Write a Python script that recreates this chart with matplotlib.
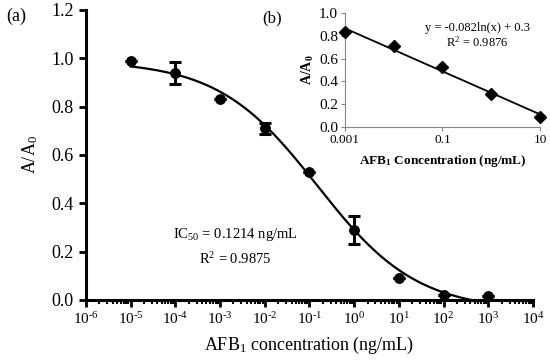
import numpy as np
import matplotlib
matplotlib.use("Agg")
import matplotlib.pyplot as plt
from matplotlib.ticker import LogLocator, FixedLocator, NullFormatter

plt.rcParams['font.family'] = ['Liberation Serif', 'DejaVu Serif']
plt.rcParams['mathtext.fontset'] = 'custom'
plt.rcParams['mathtext.rm'] = 'Liberation Serif'
plt.rcParams['mathtext.it'] = 'Liberation Serif:italic'
plt.rcParams['mathtext.bf'] = 'Liberation Serif:bold'

# main curve data (a)
conc = [1e-5, 1e-4, 1e-3, 1e-2, 1e-1, 1e0, 1e1, 1e2, 1e3]
ratio = [0.99, 0.94, 0.83, 0.71, 0.53, 0.29, 0.09, 0.02, 0.015]
ratio_err = [0.0, 0.045, 0.0, 0.022, 0.0, 0.057, 0.0, 0.0, 0.0]

# four parameter logistic fit (as drawn)
fit_top = 0.99
fit_bottom = -0.045
fit_center = 10 ** -0.82
fit_hill = 0.39

# inset data (b)
lin_conc = [0.001, 0.01, 0.1, 1, 10]
lin_ratio = [0.83, 0.71, 0.53, 0.29, 0.09]
slope = -0.082
intercept = 0.3

xtick_exp = list(range(-6, 5))

fig = plt.figure(figsize=(5.5, 3.63), dpi=100)
ax = fig.add_axes([0.156, 0.1736, 0.813, 0.799])

xs = np.logspace(-5, 2.62, 300)
ys = fit_bottom + (fit_top - fit_bottom) / (1 + (xs / fit_center) ** fit_hill)
ax.plot(xs, ys, color='black', lw=1.6, zorder=2)
ax.errorbar(conc, ratio, yerr=ratio_err, fmt='o', color='black', ms=6.8,
            elinewidth=2.2, capsize=4, capthick=2.2, zorder=3, clip_on=False)

ax.set_xscale('log')
ax.set_xlim(1e-6, 1e4)
ax.set_ylim(0, 1.2)
ax.set_xticks([10.0 ** e for e in xtick_exp])
ax.set_xticklabels([r'10$^{\text{%d}}$' % e for e in xtick_exp], fontsize=11)
ax.xaxis.set_minor_locator(LogLocator(base=10, subs=np.arange(2, 10), numticks=20))
ax.xaxis.set_minor_formatter(NullFormatter())
ax.set_yticks([0, 0.2, 0.4, 0.6, 0.8, 1.0, 1.2])
ax.set_yticklabels(['0.0', '0.2', '0.4', '0.6', '0.8', '1.0', '1.2'], fontsize=13)
for s in ['top', 'right']:
    ax.spines[s].set_visible(False)
for s in ['left', 'bottom']:
    ax.spines[s].set_linewidth(2.2)
ax.tick_params(axis='both', which='major', direction='out', length=5, width=2)
ax.tick_params(axis='x', which='minor', direction='out', length=3, width=1.5)
ax.tick_params(axis='x', pad=3)
ax.set_xlabel(r'AFB$_1$ concentration (ng/mL)', fontsize=13, labelpad=6)
ax.set_ylabel(r'A/A$_0$', fontsize=13, labelpad=8)
ax.text(2.2e-3, 0.27, r'IC$_{50}$ = 0.1214 ng/mL', fontsize=10.5, ha='center', va='center')
ax.text(2.2e-3, 0.17, r'R$^2$ = 0.9875', fontsize=10.5, ha='center', va='center')
fig.text(0.012, 0.955, '(a)', fontsize=13, va='center')

# inset (b)
ins = fig.add_axes([0.627, 0.650, 0.355, 0.314])
xl = np.array([0.001, 10])
ins.plot(xl, slope * np.log(xl) + intercept, color='black', lw=1.3, zorder=2)
ins.plot(lin_conc, lin_ratio, 'D', color='black', ms=6, zorder=3, clip_on=False)
ins.set_xscale('log')
ins.set_xlim(0.001, 10)
ins.set_ylim(0, 1.0)
ins.xaxis.set_major_locator(FixedLocator([0.001, 0.1, 10]))
ins.set_xticklabels(['0.001', '0.1', '10'], fontsize=9.5)
ins.xaxis.set_minor_locator(FixedLocator([]))
ins.set_yticks([0, 0.2, 0.4, 0.6, 0.8, 1.0])
ins.set_yticklabels(['0.0', '0.2', '0.4', '0.6', '0.8', '1.0'], fontsize=11)
for s in ['top', 'right']:
    ins.spines[s].set_visible(False)
for s in ['left', 'bottom']:
    ins.spines[s].set_color('#868686')
    ins.spines[s].set_linewidth(0.8)
ins.tick_params(axis='both', direction='out', length=3, width=0.8, color='#868686', pad=2)
ins.set_xlabel(r'$\mathbf{AFB_1}$ Concentration (ng/mL)', fontsize=9.5, fontweight='bold', labelpad=5)
ins.set_ylabel(r'$\mathbf{A/A_0}$', fontsize=10, fontweight='bold', labelpad=2)
ins.text(0.68, 0.87, 'y = -0.082ln(x) + 0.3', fontsize=9, ha='center', va='center', transform=ins.transAxes)
ins.text(0.68, 0.74, r'R$^2$ = 0.9876', fontsize=9, ha='center', va='center', transform=ins.transAxes)
fig.text(0.495, 0.95, '(b)', fontsize=12, ha='center', va='center')

fig.savefig('out.png', dpi=100)
